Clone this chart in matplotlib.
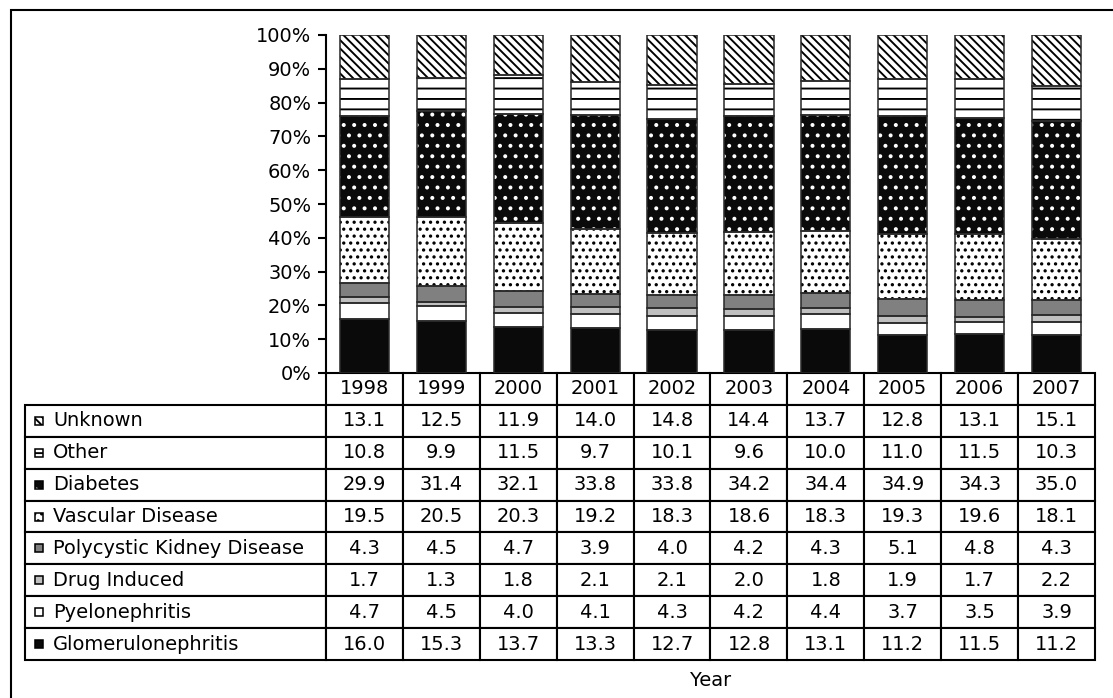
import matplotlib
matplotlib.use('Agg')
import matplotlib.pyplot as plt
from matplotlib.patches import Rectangle
import numpy as np

years = ['1998', '1999', '2000', '2001', '2002', '2003', '2004', '2005', '2006', '2007']

# percent of incident cases by primary renal disease
glomerulonephritis = [16.0, 15.3, 13.7, 13.3, 12.7, 12.8, 13.1, 11.2, 11.5, 11.2]
pyelonephritis = [4.7, 4.5, 4.0, 4.1, 4.3, 4.2, 4.4, 3.7, 3.5, 3.9]
drug_induced = [1.7, 1.3, 1.8, 2.1, 2.1, 2.0, 1.8, 1.9, 1.7, 2.2]
polycystic = [4.3, 4.5, 4.7, 3.9, 4.0, 4.2, 4.3, 5.1, 4.8, 4.3]
vascular = [19.5, 20.5, 20.3, 19.2, 18.3, 18.6, 18.3, 19.3, 19.6, 18.1]
diabetes = [29.9, 31.4, 32.1, 33.8, 33.8, 34.2, 34.4, 34.9, 34.3, 35.0]
other = [10.8, 9.9, 11.5, 9.7, 10.1, 9.6, 10.0, 11.0, 11.5, 10.3]
unknown = [13.1, 12.5, 11.9, 14.0, 14.8, 14.4, 13.7, 12.8, 13.1, 15.1]

# bottom to top: label, values, face colour, hatch, hatch colour
series = [
    ('Glomerulonephritis', glomerulonephritis, '#0a0a0a', None, '#0a0a0a'),
    ('Pyelonephritis', pyelonephritis, 'white', None, 'white'),
    ('Drug Induced', drug_induced, '#c0c0c0', None, '#c0c0c0'),
    ('Polycystic Kidney Disease', polycystic, '#808080', None, '#808080'),
    ('Vascular Disease', vascular, 'white', '...', 'black'),
    ('Diabetes', diabetes, '#0a0a0a', '..', 'white'),
    ('Other', other, 'white', '--', 'black'),
    ('Unknown', unknown, 'white', '\\' * 5, 'black'),
]

plt.rcParams['font.family'] = ['DejaVu Sans']
plt.rcParams['hatch.linewidth'] = 1.1
FS = 11.2

W, H, DPI = 1113, 698, 125
fig = plt.figure(figsize=(W / DPI, H / DPI), dpi=DPI)

# plot area in pixels: x 326..1095, y 35..373
ax = fig.add_axes([326 / W, (H - 373) / H, 769 / W, 338 / H])

x = np.arange(len(years))
bottom = np.zeros(len(years))
for name, vals, face, hatch, hcol in series:
    v = np.array(vals) / 100.0
    ax.bar(x, v, width=0.64, bottom=bottom, color=face, edgecolor=hcol,
           hatch=hatch, linewidth=0, zorder=2)
    ax.bar(x, v, width=0.64, bottom=bottom, fill=False, edgecolor='#2a2a2a',
           linewidth=0.9, zorder=3)
    bottom += v

ax.set_xlim(-0.5, len(years) - 0.5)
ax.set_ylim(0, 1)
ax.set_yticks(np.linspace(0, 1, 11))
ax.set_yticklabels(['%d%%' % p for p in range(0, 101, 10)], fontsize=FS)
ax.tick_params(axis='y', length=4.5, width=1.2, pad=4)
ax.set_xticks([])
for s in ['top', 'right', 'bottom']:
    ax.spines[s].set_visible(False)
ax.spines['left'].set_linewidth(1.2)

# data table below the bars
rows = series[::-1]
cell_text = [[name] + ['%.1f' % v for v in vals] for name, vals, _, _, _ in rows]
label_w = 301 / 769
col_w = [label_w] + [1.0 / len(years)] * len(years)
tx0 = -(326 - 25) / 769
ty0 = -(660 - 373) / 338
tbl = ax.table(cellText=cell_text, colLabels=[''] + years, colWidths=col_w,
               cellLoc='center', bbox=[tx0, ty0, 1 - tx0, -ty0])
tbl.auto_set_font_size(False)
tbl.set_fontsize(FS)
nrows = len(rows) + 1
for (r, c), cell in tbl.get_celld().items():
    cell.set_linewidth(1.2)
    if r == 0 and c == 0:
        cell.visible_edges = ''
    if c == 0 and r > 0:
        cell._loc = 'left'
        cell.PAD = 0.093
        cell.get_text().set_horizontalalignment('left')

# small key squares in front of the row labels
mw, mh = 8 / 769, 8 / 338
for i, (name, vals, face, hatch, hcol) in enumerate(rows):
    yc = ty0 + (-ty0) * (1 - (i + 1.5) / nrows)
    mx = (35 - 326) / 769
    ax.add_patch(Rectangle((mx, yc - mh / 2), mw, mh, transform=ax.transAxes,
                           facecolor=face, edgecolor=hcol, hatch=hatch,
                           linewidth=0, clip_on=False))
    ax.add_patch(Rectangle((mx, yc - mh / 2), mw, mh, transform=ax.transAxes,
                           fill=False, edgecolor='black', linewidth=0.9,
                           clip_on=False))

ax.set_xlabel('Year', fontsize=FS)
ax.xaxis.set_label_coords(0.5, -(680 - 373) / 338)
ax.xaxis.label.set_verticalalignment('center')

# outer frame
fig.add_artist(Rectangle((11 / W, -0.5), 2, 1.5 - 10 / H, transform=fig.transFigure,
                         fill=False, edgecolor='black', linewidth=1.2))

fig.savefig('out.png', dpi=DPI)
